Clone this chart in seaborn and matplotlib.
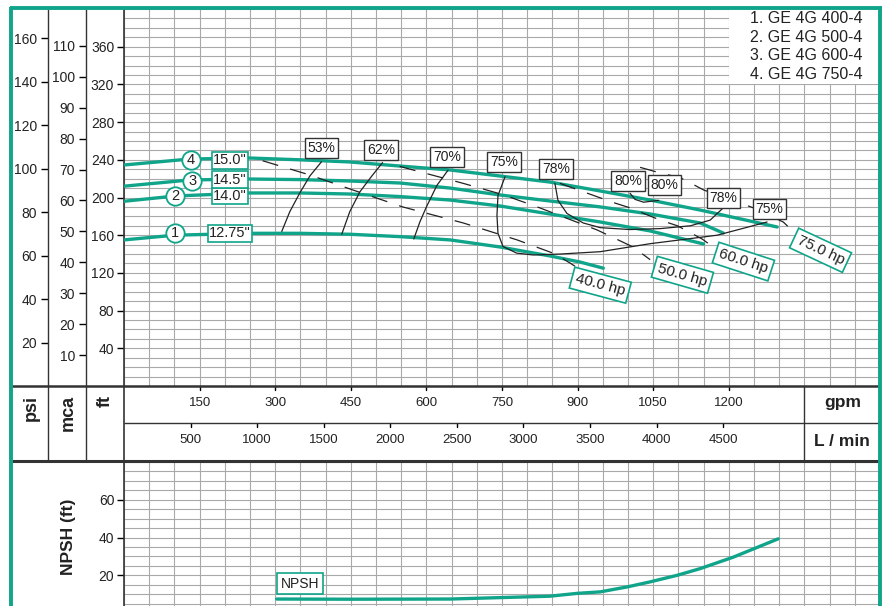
import numpy as np
import matplotlib
matplotlib.use("Agg")
import matplotlib.pyplot as plt
import matplotlib.transforms as mtransforms
from matplotlib.lines import Line2D
from matplotlib.patches import Rectangle
import seaborn as sns

## Datos ##
# Curvas H-Q por diametro de impulsor (gpm, ft)
q_imp1 = [0, 100, 249, 349, 448, 547, 647, 746, 845, 905, 951]
h_imp1 = [155, 160, 162, 162, 161, 158.5, 155, 147.5, 138, 131.5, 125]
q_imp2 = [0, 102, 249, 349, 448, 547, 647, 746, 845, 945, 1044, 1150]
h_imp2 = [196, 201.6, 204.8, 204.8, 203.7, 201, 197.3, 191, 182.5, 174, 164.5, 150.7]
q_imp3 = [0, 130, 249, 349, 448, 547, 647, 746, 845, 945, 1044, 1143, 1189]
h_imp3 = [212, 218.6, 219.6, 219, 217.5, 215.4, 210, 202.7, 196.3, 190, 182.5, 173, 162.3]
q_imp4 = [0, 130, 249, 349, 448, 547, 647, 746, 845, 945, 1044, 1143, 1296]
h_imp4 = [234.5, 240.8, 241.9, 240, 237.7, 233.4, 229.2, 222.8, 216.4, 206.9, 197.3, 186.7, 168.7]

curvas_q = [q_imp1, q_imp2, q_imp3, q_imp4]
curvas_h = [h_imp1, h_imp2, h_imp3, h_imp4]
numeros = ['1', '2', '3', '4']
diametros = ['12.75"', '14.0"', '14.5"', '15.0"']
num_q = [102, 102, 135, 132]
num_h = [162, 201.6, 217.7, 239.6]
diam_q = [210, 210, 210, 210]
diam_h = [162, 201.6, 219, 239.5]

modelos = ['1. GE 4G 400-4', '2. GE 4G 500-4', '3. GE 4G 600-4', '4. GE 4G 750-4']

# Curvas de eficiencia
ef_q = [
    [392, 369, 349, 329, 313],
    [513, 492, 468, 448, 432],
    [643, 621, 600, 587, 575],
    [756, 742, 740, 742, 752, 779, 812, 865, 945, 1044, 1177, 1276],
    [855, 861, 879, 911, 945, 1004, 1064, 1124, 1163, 1187],
    [1004, 1014, 1031, 1061],
]
ef_h = [
    [238, 223, 205, 185, 164],
    [237, 223, 206, 185, 161],
    [229, 213, 190, 174, 156],
    [222, 202, 181, 162, 148, 141, 139, 140, 142.5, 151, 160, 174],
    [215, 197, 183, 173, 168, 166, 167, 170, 176, 188],
    [204.5, 198, 195, 197],
]
ef_etiquetas = ['53%', '62%', '70%', '75%', '78%', '80%', '80%', '78%', '75%']
ef_lab_q = [392, 510, 641, 754, 857, 1000, 1072, 1189, 1281]
ef_lab_h = [252.5, 250.4, 243, 237.7, 230, 217.5, 213.3, 199.5, 187.8]

# Curvas de potencia (hp)
hp_q = [
    [275, 368, 454, 553, 673, 780, 851, 885, 895],
    [547, 673, 752, 825, 939, 1010, 1044],
    [865, 969, 1004, 1064, 1098, 1147, 1169],
    [1024, 1064, 1104, 1150, 1223, 1249, 1308, 1322],
]
hp_h = [
    [239, 224, 208, 190, 173, 155, 141, 130.5, 127],
    [233, 215, 203, 189, 165.5, 147.5, 134],
    [215, 195, 189, 176, 170, 156, 147.5],
    [232, 226, 221, 208, 194, 189, 174, 167],
]
hp_etiquetas = ['40.0 hp', '50.0 hp', '60.0 hp', '75.0 hp']
hp_lab_q = [945, 1108, 1229, 1382]
hp_lab_h = [107, 118, 132, 144]
hp_rot = [-15, -16, -18, -25]

# NPSH requerido
npsh_q = [303, 448, 647, 845, 899, 945, 998, 1044, 1098, 1143, 1209, 1298]
npsh_h = [7.4, 7.3, 7.4, 8.9, 10.4, 11.2, 13.8, 16.5, 20, 23.5, 29.6, 39.3]

# Escalas secundarias
gpm_ticks = [150, 300, 450, 600, 750, 900, 1050, 1200]
lmin_ticks = [500, 1000, 1500, 2000, 2500, 3000, 3500, 4000, 4500]
psi_ticks = [20, 40, 60, 80, 100, 120, 140, 160]
mca_ticks = [10, 20, 30, 40, 50, 60, 70, 80, 90, 100, 110]
ft_ticks = [40, 80, 120, 160, 200, 240, 280, 320, 360]
npsh_ticks = [20, 40, 60]

VERDE = '#10a58a'
GRIS = '#a9a9a9'
TEXTO = '#222222'
W, H = 884, 606

sns.set_theme(style='white')
plt.rcParams['font.family'] = ['Liberation Sans', 'DejaVu Sans']

fig = plt.figure(figsize=(W / 100, H / 100), dpi=100)


def ejes_px(x0, y0, x1, y1):
    return fig.add_axes([x0 / W, 1 - y1 / H, (x1 - x0) / W, (y1 - y0) / H])


def linea_px(xs, ys, lw=1.0, color='black'):
    fig.add_artist(Line2D([x / W for x in xs], [1 - y / H for y in ys],
                          lw=lw, color=color, transform=fig.transFigure,
                          solid_capstyle='butt'))


## Eje principal (ft) ##
ax = ejes_px(124, 9, 880, 386)
ax.set_xlim(0, 1500)
ax.set_ylim(0, 400)
ax.set_xticks(np.arange(0, 1501, 50))
ax.set_yticks(ft_ticks)
ax.set_yticks(np.arange(0, 401, 10), minor=True)
ax.tick_params(axis='x', length=0, labelbottom=False)
ax.tick_params(axis='y', which='major', direction='out', length=5, width=1,
               color='black', labelsize=10, labelcolor=TEXTO, pad=2, left=True)
ax.tick_params(axis='y', which='minor', length=0)
ax.grid(True, which='both', color=GRIS, lw=0.8)
ax.set_axisbelow(True)
for s in ['top', 'right', 'bottom']:
    ax.spines[s].set_visible(False)
ax.spines['left'].set_color('#333333')
ax.spines['left'].set_linewidth(1.2)
ax.set_xlabel('')
ax.set_ylabel('')

# leyenda de modelos
ax.add_patch(Rectangle((1200, 320), 300, 80, fc='white', ec='none', zorder=1.5))
for i, m in enumerate(modelos):
    ax.text(0.828, 0.9735 - i * 0.0487, m, transform=ax.transAxes, fontsize=11.5,
            color=TEXTO, ha='left', va='center', zorder=2)

# curvas H-Q
for q, h in zip(curvas_q, curvas_h):
    sns.lineplot(x=q, y=h, ax=ax, color=VERDE, lw=2.4, sort=False, estimator=None, zorder=3)

# eficiencia
for q, h in zip(ef_q, ef_h):
    sns.lineplot(x=q, y=h, ax=ax, color='#222222', lw=0.9, sort=False, estimator=None, zorder=4)

# potencia
for q, h in zip(hp_q, hp_h):
    sns.lineplot(x=q, y=h, ax=ax, color='#222222', lw=0.9, sort=False, estimator=None,
                 linestyle=(0, (13, 10)), zorder=4)

for t, q, h in zip(ef_etiquetas, ef_lab_q, ef_lab_h):
    ax.text(q, h, t, fontsize=10, color=TEXTO, ha='center', va='center', zorder=6,
            bbox=dict(boxstyle='square,pad=0.2', fc='white', ec='#333333', lw=1))

for t, q, h, r in zip(hp_etiquetas, hp_lab_q, hp_lab_h, hp_rot):
    ax.text(q, h, t, fontsize=11, color=TEXTO, ha='center', va='center', rotation=r,
            rotation_mode='anchor', zorder=6,
            bbox=dict(boxstyle='square,pad=0.25', fc='white', ec=VERDE, lw=1.2))

ax.scatter(num_q, num_h, s=175, facecolor='white', edgecolor=VERDE, linewidths=1.3, zorder=6)
for t, q, h in zip(numeros, num_q, num_h):
    ax.text(q, h, t, fontsize=10.5, color=TEXTO, ha='center', va='center', zorder=7)
for t, q, h in zip(diametros, diam_q, diam_h):
    ax.text(q, h, t, fontsize=10.5, color=TEXTO, ha='center', va='center', zorder=6,
            bbox=dict(boxstyle='square,pad=0.1', fc='white', ec=VERDE, lw=1.2))

## Ejes psi y mca ##
for x0, lim, ticks in [(48, 400 / 2.3067, psi_ticks), (86, 400 * 0.3048, mca_ticks)]:
    a = ejes_px(x0, 9, x0 + 10, 386)
    a.set_ylim(0, lim)
    a.set_xticks([])
    a.set_yticks(ticks)
    a.tick_params(axis='y', direction='out', length=5, width=1, color='black',
                  labelsize=10, labelcolor=TEXTO, pad=3, left=True)
    a.patch.set_alpha(0)
    for s in a.spines.values():
        s.set_visible(False)

## Banda de caudales ##
bt = mtransforms.blended_transform_factory(ax.transData, fig.transFigure)
for q in gpm_ticks:
    fig.add_artist(Line2D([q, q], [1 - 386 / H, 1 - 390 / H], transform=bt, color='black', lw=1))
    fig.text(q, 1 - 403 / H, str(q), transform=bt, ha='center', va='center',
             fontsize=9.5, color=TEXTO)
for l in lmin_ticks:
    q = l / 3.78541
    fig.add_artist(Line2D([q, q], [1 - 423 / H, 1 - 427 / H], transform=bt, color='black', lw=1))
    fig.text(q, 1 - 440 / H, str(l), transform=bt, ha='center', va='center',
             fontsize=9.5, color=TEXTO)

fig.text(843 / W, 1 - 403 / H, 'gpm', ha='center', va='center', fontsize=12.5,
         fontweight='bold', color=TEXTO)
fig.text(842 / W, 1 - 442 / H, 'L / min', ha='center', va='center', fontsize=12.5,
         fontweight='bold', color=TEXTO)
for t, x in [('psi', 31), ('mca', 68), ('ft', 105)]:
    fig.text(x / W, 1 - 395 / H, t, rotation=90, ha='center', va='top', fontsize=13,
             fontweight='bold', color=TEXTO)

# lineas de la tabla
linea_px([12, 880], [386, 386], lw=1.8, color='#333333')
linea_px([124, 880], [423, 423], lw=1.0, color='#333333')
linea_px([12, 880], [461, 461], lw=2.2, color='#333333')
linea_px([804, 804], [386, 461], lw=1.0, color='#333333')
linea_px([48, 48], [9, 461], lw=1.0, color='#333333')
linea_px([86, 86], [9, 461], lw=1.0, color='#333333')
linea_px([124, 124], [386, 461], lw=1.2, color='#333333')

## NPSH ##
axn = ejes_px(124, 462, 880, 613)
axn.set_xlim(0, 1500)
axn.set_ylim(0, 80)
axn.set_xticks(np.arange(0, 1501, 50))
axn.set_yticks(npsh_ticks)
axn.set_yticks(np.arange(0, 81, 5), minor=True)
axn.tick_params(axis='x', length=0, labelbottom=False)
axn.tick_params(axis='y', which='major', direction='out', length=5, width=1,
                color='black', labelsize=10, labelcolor=TEXTO, pad=2, left=True)
axn.tick_params(axis='y', which='minor', length=0)
axn.grid(True, which='both', color=GRIS, lw=0.8)
axn.set_axisbelow(True)
for s in ['top', 'right', 'bottom']:
    axn.spines[s].set_visible(False)
axn.spines['left'].set_color('#333333')
axn.spines['left'].set_linewidth(1.2)
sns.lineplot(x=npsh_q, y=npsh_h, ax=axn, color=VERDE, lw=2.4, sort=False, estimator=None, zorder=3)
axn.text(349, 15.6, 'NPSH', fontsize=10, color=TEXTO, ha='center', va='center', zorder=6,
         bbox=dict(boxstyle='square,pad=0.25', fc='white', ec=VERDE, lw=1.2))
axn.set_xlabel('')
axn.set_ylabel('')
fig.text(68 / W, 1 - 537 / H, 'NPSH (ft)', rotation=90, ha='center', va='center',
         fontsize=12.5, fontweight='bold', color=TEXTO)

# marco verde
linea_px([11, 11], [7, 606], lw=2.8, color=VERDE)
linea_px([9.5, 881.5], [8.3, 8.3], lw=2.8, color=VERDE)
linea_px([880, 880], [7, 606], lw=2.8, color=VERDE)

fig.savefig('out.png', dpi=100)
